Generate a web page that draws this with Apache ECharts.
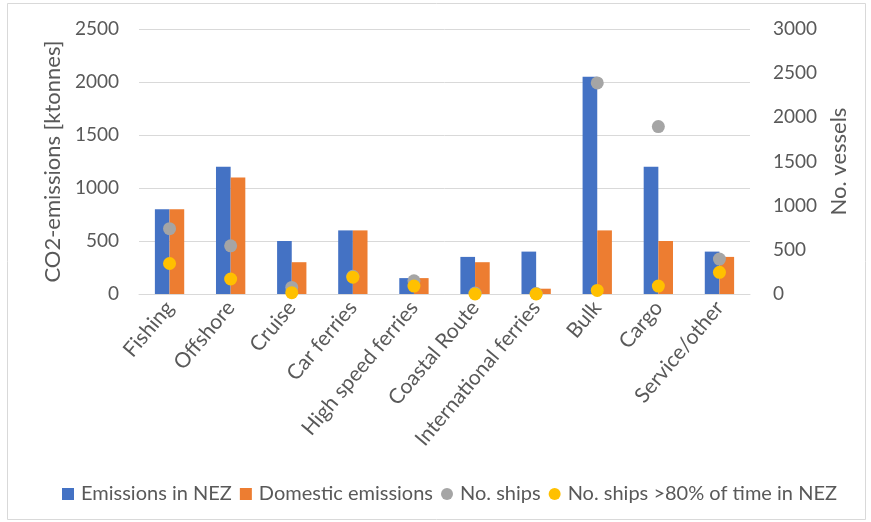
<!DOCTYPE html>
<html>
<head>
<meta charset="utf-8">
<script src="https://cdn.jsdelivr.net/npm/echarts@6/dist/echarts.min.js"></script>
<style>
  html, body { margin: 0; padding: 0; background: #fff; }
  #chart { width: 871px; height: 522px; }
</style>
</head>
<body>
<div id="chart"></div>
<script>
// Vessel segments
const categories = ['Fishing', 'Offshore', 'Cruise', 'Car ferries', 'High speed ferries',
  'Coastal Route', 'International ferries', 'Bulk', 'Cargo', 'Service/other'];

// CO2 emissions, ktonnes (left axis)
const emissionsNEZ = [800, 1200, 500, 600, 150, 350, 400, 2050, 1200, 400];
const domesticEmissions = [800, 1100, 300, 600, 150, 300, 50, 600, 500, 350];

// Vessel counts (right axis)
const noShips = [740, 545, 75, 200, 150, 10, 5, 2390, 1895, 395];
const noShipsNEZ80 = [345, 170, 15, 190, 90, 0, 0, 40, 90, 245];

const leftTicks = { min: 0, max: 2500, interval: 500 };
const rightTicks = { min: 0, max: 3000, interval: 500 };

const FONT = 'Lato, "Open Sans", sans-serif';
const TEXT = '#595959';
const GRID = '#D9D9D9';

const chart = echarts.init(document.getElementById('chart'), null, { renderer: 'canvas' });

const plainNumber = v => String(v);

chart.setOption({
  backgroundColor: '#ffffff',
  animation: false,
  textStyle: { fontFamily: FONT, color: TEXT },
  graphic: [{
    type: 'rect',
    shape: { x: 7.5, y: 3.5, width: 858, height: 516 },
    style: { fill: 'none', stroke: GRID, lineWidth: 1 },
    silent: true
  }],
  grid: { left: 139, right: 121, top: 29, bottom: 228, containLabel: false },
  legend: {
    left: 57,
    top: 479,
    itemWidth: 12,
    itemHeight: 12,
    itemGap: 8,
    textStyle: { fontFamily: FONT, fontSize: 20, color: TEXT, padding: [0, 0, 0, 2] },
    data: [
      { name: 'Emissions in NEZ', icon: 'rect' },
      { name: 'Domestic emissions', icon: 'rect' },
      { name: 'No. ships', icon: 'circle' },
      { name: 'No. ships >80% of time in NEZ', icon: 'circle' }
    ]
  },
  xAxis: {
    type: 'category',
    data: categories,
    axisLine: { show: true, lineStyle: { color: GRID, width: 1 } },
    axisTick: { show: false },
    axisLabel: {
      interval: 0,
      rotate: 50,
      margin: 10,
      fontFamily: FONT,
      fontSize: 21,
      color: TEXT
    }
  },
  yAxis: [{
    type: 'value',
    min: leftTicks.min, max: leftTicks.max, interval: leftTicks.interval,
    name: 'CO2-emissions [ktonnes]',
    nameLocation: 'middle',
    nameGap: 75,
    nameTextStyle: { fontFamily: FONT, fontSize: 22, color: TEXT },
    axisLine: { show: false },
    axisTick: { show: false },
    axisLabel: { fontFamily: FONT, fontSize: 19, color: TEXT, margin: 20, formatter: plainNumber },
    splitLine: { lineStyle: { color: GRID, width: 1 } }
  }, {
    type: 'value',
    position: 'right',
    min: rightTicks.min, max: rightTicks.max, interval: rightTicks.interval,
    name: 'No. vessels',
    nameLocation: 'middle',
    nameGap: 74,
    nameTextStyle: { fontFamily: FONT, fontSize: 22, color: TEXT },
    axisLine: { show: false },
    axisTick: { show: false },
    axisLabel: { fontFamily: FONT, fontSize: 19, color: TEXT, margin: 23, formatter: plainNumber },
    splitLine: { show: false }
  }],
  series: [{
    name: 'Emissions in NEZ',
    type: 'bar',
    data: emissionsNEZ,
    barGap: '0%',
    barCategoryGap: '52%',
    itemStyle: { color: '#4472C4' }
  }, {
    name: 'Domestic emissions',
    type: 'bar',
    data: domesticEmissions,
    barGap: '0%',
    barCategoryGap: '52%',
    itemStyle: { color: '#ED7D31' }
  }, {
    name: 'No. ships',
    type: 'scatter',
    yAxisIndex: 1,
    data: noShips,
    symbol: 'circle',
    symbolSize: 13,
    itemStyle: { color: '#A5A5A5', opacity: 1 }
  }, {
    name: 'No. ships >80% of time in NEZ',
    type: 'scatter',
    yAxisIndex: 1,
    data: noShipsNEZ80,
    symbol: 'circle',
    symbolSize: 13,
    itemStyle: { color: '#FFC000', opacity: 1 }
  }]
});
</script>
</body>
</html>
